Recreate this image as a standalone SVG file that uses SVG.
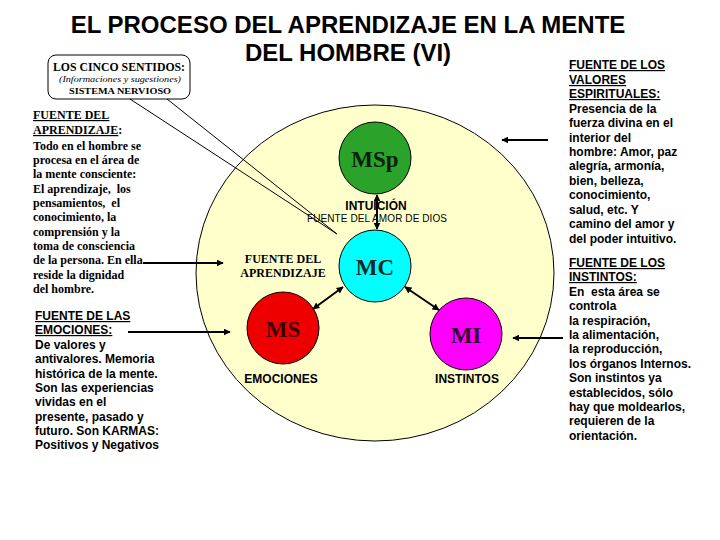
<svg xmlns="http://www.w3.org/2000/svg" width="720" height="540" viewBox="0 0 720 540">
<defs>
<marker id="ah" viewBox="0 0 10 10" refX="9" refY="5" markerWidth="7" markerHeight="7" markerUnits="userSpaceOnUse" orient="auto-start-reverse">
<path d="M0,0 L10,5 L0,10 z" fill="#000"/>
</marker>
<style>
.title{font-family:"Liberation Sans",Arial,sans-serif;font-weight:bold;font-size:24px;fill:#000;text-anchor:middle}
.sb{font-family:"Liberation Serif","Times New Roman",serif;font-weight:bold;font-size:12px;fill:#000}
.ab{font-family:"Liberation Sans",Arial,sans-serif;font-weight:bold;font-size:12px;fill:#000}
.an{font-family:"Liberation Sans",Arial,sans-serif;font-size:10px;fill:#000}
.big{font-family:"Liberation Serif","Times New Roman",serif;font-weight:bold;font-size:23px;text-anchor:middle}
.u{text-decoration:underline}
.c{text-anchor:middle}
.conn line{stroke:#000;stroke-width:2}
.node circle{stroke:#000;stroke-width:1}
</style>
</defs>
<rect width="720" height="540" fill="#fff"/>

<text class="title" x="348" y="33">EL PROCESO DEL APRENDIZAJE EN LA MENTE</text>
<text class="title" x="348" y="61">DEL HOMBRE (VI)</text>

<g id="mente">
<ellipse cx="375" cy="273" rx="179" ry="168" fill="#FFFFCC" stroke="#000" stroke-width="1"/>
</g>

<g id="sentidos">
<rect x="48" y="55" width="142" height="44" rx="8" ry="8" fill="#fff" stroke="#000" stroke-width="1"/>
<text class="sb" x="119" y="71" text-anchor="middle" textLength="132" lengthAdjust="spacingAndGlyphs">LOS CINCO SENTIDOS:</text>
<text x="120" y="82" text-anchor="middle" font-family="Liberation Serif,Times New Roman,serif" font-style="italic" font-size="9" textLength="122" lengthAdjust="spacingAndGlyphs">(Informaciones y sugestiones)</text>
<text x="120" y="94" text-anchor="middle" font-family="Liberation Serif,Times New Roman,serif" font-weight="bold" font-size="9" textLength="102" lengthAdjust="spacingAndGlyphs">SISTEMA NERVIOSO</text>
</g>

<g id="texto-aprendizaje" class="sb">
<text x="33" y="119"><tspan class="u">FUENTE DEL</tspan></text>
<text x="33" y="134"><tspan class="u">APRENDIZAJE</tspan>:</text>
<text x="33" y="150">Todo en el hombre se</text>
<text x="33" y="164">procesa en el área de</text>
<text x="33" y="178">la mente consciente:</text>
<text x="33" y="193" xml:space="preserve">El aprendizaje,  los</text>
<text x="33" y="207" xml:space="preserve">pensamientos,  el</text>
<text x="33" y="221">conocimiento, la</text>
<text x="33" y="236">comprensión y la</text>
<text x="33" y="250">toma de consciencia</text>
<text x="33" y="264">de la persona. En ella</text>
<text x="33" y="279">reside la dignidad</text>
<text x="33" y="293">del hombre.</text>
</g>

<g id="texto-emociones" class="ab">
<text x="35" y="320" class="u">FUENTE DE LAS</text>
<text x="35" y="334" class="u">EMOCIONES:</text>
<text x="35" y="349">De valores y</text>
<text x="35" y="363">antivalores. Memoria</text>
<text x="35" y="378">histórica de la mente.</text>
<text x="35" y="392">Son las experiencias</text>
<text x="35" y="406">vividas en el</text>
<text x="35" y="421">presente, pasado y</text>
<text x="35" y="435">futuro. Son KARMAS:</text>
<text x="35" y="449">Positivos y Negativos</text>
</g>

<g id="texto-espirituales" class="ab">
<text x="569" y="69" class="u">FUENTE DE LOS</text>
<text x="569" y="84" class="u">VALORES</text>
<text x="569" y="98" class="u">ESPIRITUALES:</text>
<text x="569" y="113">Presencia de la</text>
<text x="569" y="127">fuerza divina en el</text>
<text x="569" y="142">interior del</text>
<text x="569" y="156">hombre: Amor, paz</text>
<text x="569" y="170">alegría, armonía,</text>
<text x="569" y="185">bien, belleza,</text>
<text x="569" y="199">conocimiento,</text>
<text x="569" y="214">salud, etc. Y</text>
<text x="569" y="228">camino del amor y</text>
<text x="569" y="243">del poder intuitivo.</text>
</g>

<g id="texto-instintos" class="ab">
<text x="569" y="267" class="u">FUENTE DE LOS</text>
<text x="569" y="281" class="u">INSTINTOS:</text>
<text x="569" y="296" xml:space="preserve">En  esta área se</text>
<text x="569" y="310">controla</text>
<text x="569" y="325">la respiración,</text>
<text x="569" y="339">la alimentación,</text>
<text x="569" y="353">la reproducción,</text>
<text x="569" y="368">los órganos Internos.</text>
<text x="569" y="382">Son instintos ya</text>
<text x="569" y="397">establecidos, sólo</text>
<text x="569" y="411">hay que moldearlos,</text>
<text x="569" y="425">requieren de la</text>
<text x="569" y="440">orientación.</text>
</g>

<g id="MSp" class="node">
<circle cx="375" cy="158" r="36" fill="#2BA32B"/>
<text class="big" x="375" y="167" fill="#0A200A">MSp</text>
</g>
<g id="MC" class="node">
<circle cx="375" cy="266" r="36" fill="#00FFFF"/>
<text class="big" x="375" y="275" fill="#0A2A2A">MC</text>
</g>
<g id="MS" class="node">
<circle cx="283" cy="328" r="36" fill="#EE0000"/>
<text class="big" x="283" y="337" fill="#3A0000">MS</text>
</g>
<g id="MI" class="node">
<circle cx="466" cy="334" r="36" fill="#FF00FF"/>
<text class="big" x="466" y="343" fill="#300030">MI</text>
</g>

<g id="labels">
<text class="ab c" x="376" y="210">INTUICIÓN</text>
<text class="an c" x="377" y="222" textLength="140" lengthAdjust="spacing">FUENTE DEL AMOR DE DIOS</text>
<text class="sb c" x="283" y="263">FUENTE DEL</text>
<text class="sb c" x="283" y="277">APRENDIZAJE</text>
<text class="ab c" x="281" y="383">EMOCIONES</text>
<text class="ab c" x="467" y="383">INSTINTOS</text>
</g>

<g id="connectors" class="conn">
<path d="M130,99 L337,234 M167,99 L337,234" fill="none" stroke="#000" stroke-width="1"/>
<line x1="377" y1="195" x2="377" y2="229" marker-start="url(#ah)" marker-end="url(#ah)"/>
<line x1="313" y1="309" x2="343" y2="287" marker-start="url(#ah)" marker-end="url(#ah)"/>
<line x1="405" y1="287" x2="439" y2="310" marker-start="url(#ah)" marker-end="url(#ah)"/>
<line x1="143" y1="263" x2="223" y2="263" marker-end="url(#ah)"/>
<line x1="128" y1="332" x2="230" y2="332" marker-end="url(#ah)"/>
<line x1="548" y1="140" x2="502" y2="140" marker-end="url(#ah)"/>
<line x1="563" y1="338" x2="513" y2="338" marker-end="url(#ah)"/>
</g>
</svg>
